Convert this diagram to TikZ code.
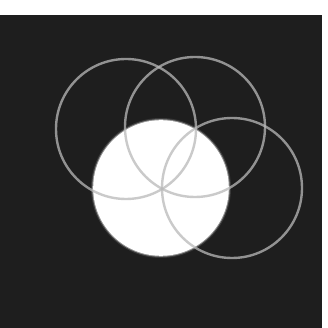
\documentclass[tikz,border=0pt]{standalone}
\definecolor{bgdark}{RGB}{30,30,30}
\definecolor{ringgray}{RGB}{185,185,185}
\tikzset{
  ring/.style={draw=ringgray, draw opacity=0.75, line width=2.4pt},
  glow/.style={fill=white, fill opacity=#1}
}
\begin{document}
\begin{tikzpicture}[x=1pt,y=1pt]
  \useasboundingbox (0,0) rectangle (327,328);
  \fill[white] (0,0) rectangle (327,328);
  \fill[bgdark] (0,0) rectangle (322,313);
  % centres
  \coordinate (cA) at (126,199);
  \coordinate (cB) at (195,201);
  \coordinate (cC) at (232,140);
  \coordinate (cW) at (161,140);
  % glowing white disc
  \fill[glow=0.12] (cW) circle[radius=70];
  \fill[glow=0.45] (cW) circle[radius=68.8];
  \fill[white] (cW) circle[radius=67.8];
  % rings
  \draw[ring] (cA) circle[radius=70];
  \draw[ring] (cB) circle[radius=70];
  \draw[ring] (cC) circle[radius=70];
\end{tikzpicture}
\end{document}
